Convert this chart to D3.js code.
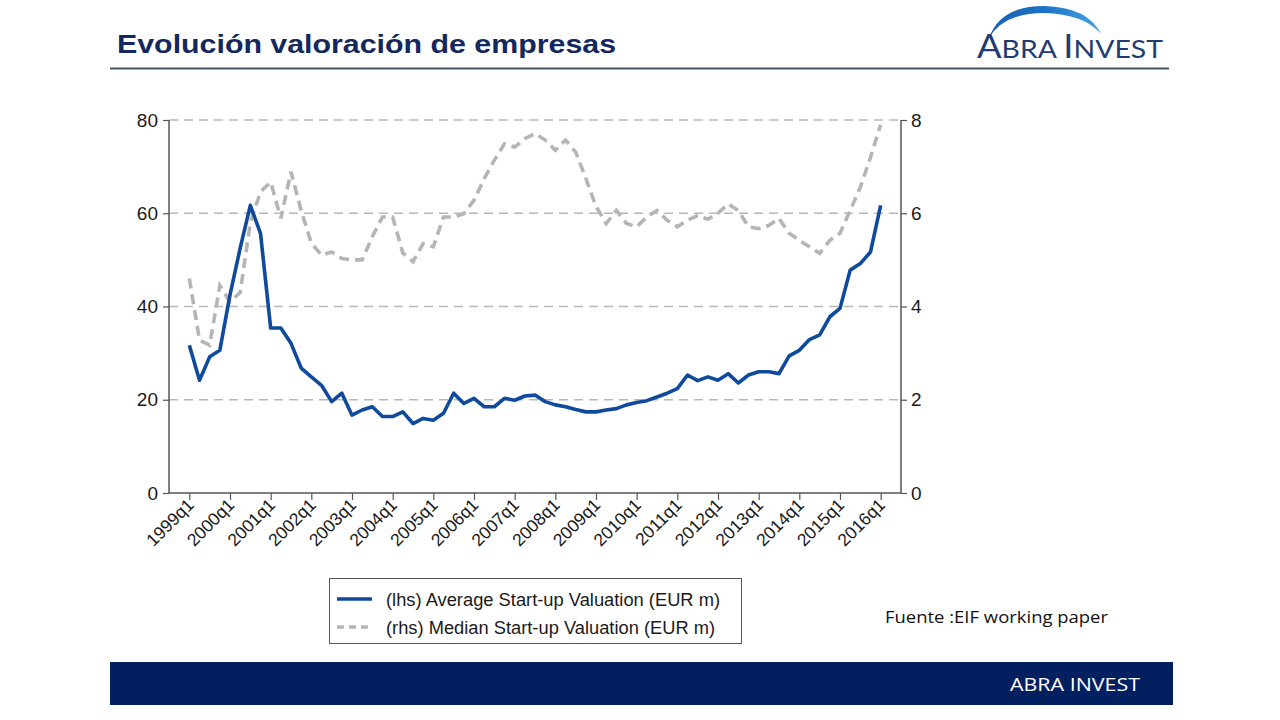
<!DOCTYPE html>
<html><head><meta charset="utf-8">
<script src="https://cdn.jsdelivr.net/npm/d3@7"></script>
<style>
html,body{margin:0;padding:0;background:#fff;}
svg{display:block;}
</style></head>
<body>
<svg id="chart" width="1280" height="720"></svg>
<script>
// ---- Data ----
const years = ["1999","2000","2001","2002","2003","2004","2005","2006","2007","2008","2009","2010","2011","2012","2013","2014","2015","2016"];
const tickLabels = years.map(y => y + "q1");
// Quarterly, 1999q1 .. 2016q1 (69 quarters)
const averageValuation = [
  31.7, 24.2, 29.2, 30.6,
  42.5, 52.5, 61.7, 55.7,
  35.4, 35.4, 32.1, 26.8,
  24.9, 23.1, 19.6, 21.4,
  16.7, 17.8, 18.5, 16.4,
  16.4, 17.4, 14.9, 16.0,
  15.6, 17.1, 21.4, 19.2,
  20.3, 18.5, 18.5, 20.3,
  19.9, 20.8, 21.0, 19.6,
  18.9, 18.5, 17.9, 17.4,
  17.4, 17.8, 18.1, 18.9,
  19.4, 19.8, 20.6, 21.4,
  22.4, 25.3, 24.1, 24.9,
  24.2, 25.6, 23.6, 25.3,
  26.0, 26.0, 25.6, 29.4,
  30.6, 32.9, 33.9, 37.8,
  39.6, 47.8, 49.2, 51.7,
  61.7
];
const medianValuation = [
  4.6, 3.28, 3.17, 4.45,
  4.1, 4.3, 5.8, 6.46,
  6.67, 5.89, 6.89, 6.06,
  5.36, 5.1, 5.17, 5.03,
  5.0, 5.0, 5.5, 5.92,
  5.92, 5.15, 4.96, 5.35,
  5.28, 5.92, 5.92, 5.99,
  6.28, 6.74, 7.14, 7.49,
  7.42, 7.6, 7.71, 7.57,
  7.35, 7.57, 7.31, 6.75,
  6.15, 5.78, 6.06, 5.78,
  5.71, 5.92, 6.06, 5.85,
  5.71, 5.85, 5.95, 5.87,
  6.0, 6.2, 6.06, 5.71,
  5.67, 5.74, 5.89, 5.57,
  5.42, 5.28, 5.14, 5.42,
  5.57, 6.06, 6.56, 7.2,
  7.9
];
const leftTicks = [0, 20, 40, 60, 80];
const rightTicks = [0, 2, 4, 6, 8];
const legendLabels = ["(lhs) Average Start-up Valuation (EUR m)", "(rhs) Median Start-up Valuation (EUR m)"];

// ---- Layout ----
const svg = d3.select("#chart");
const plot = {left: 169, right: 901, top: 120, bottom: 493};
const blue = "#0f4a9c";
const grey = "#b5b5b5";
const axisCol = "#555";
const navy = "#12285e";

const x = d3.scaleLinear().domain([-2, 70]).range([plot.left, plot.right]);
const yL = d3.scaleLinear().domain([0, 80]).range([plot.bottom, plot.top]);
const yR = d3.scaleLinear().domain([0, 8]).range([plot.bottom, plot.top]);

// ---- Header ----
svg.append("text")
  .attr("x", 117).attr("y", 53)
  .attr("font-family", "Liberation Sans, Arial, sans-serif")
  .attr("font-weight", "bold").attr("font-size", 26)
  .attr("fill", navy)
  .attr("textLength", 499).attr("lengthAdjust", "spacingAndGlyphs")
  .text("Evolución valoración de empresas");

svg.append("line")
  .attr("x1", 110).attr("x2", 1169).attr("y1", 68.5).attr("y2", 68.5)
  .attr("stroke", "#45566a").attr("stroke-width", 2);

// Logo
const defs = svg.append("defs");
const grad = defs.append("linearGradient").attr("id", "arcGrad").attr("x1", "0").attr("x2", "1").attr("y1", "0").attr("y2", "0");
grad.append("stop").attr("offset", "0%").attr("stop-color", "#1c5fb0");
grad.append("stop").attr("offset", "50%").attr("stop-color", "#1a73c8");
grad.append("stop").attr("offset", "100%").attr("stop-color", "#4aa3e0");
svg.append("path")
  .attr("d", "M989,38 Q1000,6 1044,6 Q1088,7 1101,34 Q1084,14 1044,13 Q1004,13 989,38 Z")
  .attr("fill", "url(#arcGrad)");
const logo = svg.append("text")
  .attr("x", 977).attr("y", 58)
  .attr("font-family", "Lato, Open Sans, sans-serif")
  .attr("font-weight", 400)
  .attr("fill", "#223b70")
  .attr("textLength", 186).attr("lengthAdjust", "spacingAndGlyphs");
logo.append("tspan").attr("font-size", 32).text("A");
logo.append("tspan").attr("font-size", 25).text("BRA ");
logo.append("tspan").attr("font-size", 32).text("I");
logo.append("tspan").attr("font-size", 25).text("NVEST");

// ---- Gridlines ----
svg.append("g").selectAll("line")
  .data(leftTicks.filter(d => d > 0))
  .join("line")
  .attr("x1", plot.left).attr("x2", plot.right)
  .attr("y1", d => yL(d)).attr("y2", d => yL(d))
  .attr("stroke", "#b8b8b8").attr("stroke-width", 1.4)
  .attr("stroke-dasharray", "9,6");

// ---- Axes ----
const fontAxis = "Liberation Sans, Arial, sans-serif";
const gL = svg.append("g").attr("transform", `translate(${plot.left},0)`)
  .call(d3.axisLeft(yL).tickValues(leftTicks).tickSize(6).tickPadding(5).tickFormat(d3.format("d")));
const gR = svg.append("g").attr("transform", `translate(${plot.right},0)`)
  .call(d3.axisRight(yR).tickValues(rightTicks).tickSize(6).tickPadding(4).tickFormat(d3.format("d")));
const tickIdx = tickLabels.map((_, i) => i * 4);
const gB = svg.append("g").attr("transform", `translate(0,${plot.bottom})`)
  .call(d3.axisBottom(x).tickValues(tickIdx).tickSize(7).tickFormat((d, i) => tickLabels[i]));

[gL, gR, gB].forEach(g => {
  g.select(".domain").attr("stroke", axisCol).attr("stroke-width", 1.5);
  g.selectAll(".tick line").attr("stroke", axisCol).attr("stroke-width", 1.2);
  g.selectAll(".tick text").attr("fill", "#1a1a1a").attr("font-family", fontAxis);
});
gL.select(".domain").attr("d", `M0,${plot.top}V${plot.bottom}`);
gR.select(".domain").attr("d", `M0,${plot.top}V${plot.bottom}`);
gB.select(".domain").attr("d", `M${plot.left},0H${plot.right}`);
gL.selectAll(".tick text").attr("font-size", 19);
gR.selectAll(".tick text").attr("font-size", 19);
gB.selectAll(".tick text")
  .attr("font-size", 17.5)
  .attr("text-anchor", "end")
  .attr("dy", null).attr("y", 0)
  .attr("transform", "translate(5,13) rotate(-45)");

// ---- Lines ----
const lineL = d3.line().x((d, i) => x(i)).y(d => yL(d));
const lineR = d3.line().x((d, i) => x(i)).y(d => yR(d));
svg.append("path").datum(medianValuation)
  .attr("d", lineR).attr("fill", "none")
  .attr("stroke", grey).attr("stroke-width", 3.6)
  .attr("stroke-dasharray", "10,6");
svg.append("path").datum(averageValuation)
  .attr("d", lineL).attr("fill", "none")
  .attr("stroke", blue).attr("stroke-width", 3.6)
  .attr("stroke-linejoin", "round");

// ---- Legend ----
const lg = svg.append("g");
lg.append("rect").attr("x", 329.5).attr("y", 578.5).attr("width", 412).attr("height", 65)
  .attr("fill", "#fff").attr("stroke", "#555").attr("stroke-width", 1);
const legendStyles = [{c: blue, dash: null, w: 334}, {c: grey, dash: "7,5", w: 329}];
legendLabels.forEach((lab, i) => {
  const yy = 599 + i * 28;
  lg.append("line").attr("x1", 337).attr("x2", 372).attr("y1", yy).attr("y2", yy)
    .attr("stroke", legendStyles[i].c).attr("stroke-width", 3.4)
    .attr("stroke-dasharray", legendStyles[i].dash);
  lg.append("text").attr("x", 386).attr("y", yy + 6.5)
    .attr("font-family", fontAxis).attr("font-size", 17.5).attr("fill", "#1a1a1a")
    .attr("textLength", legendStyles[i].w).attr("lengthAdjust", "spacingAndGlyphs")
    .text(lab);
});

// ---- Source ----
svg.append("text").attr("x", 885).attr("y", 623)
  .attr("font-family", "Open Sans, sans-serif").attr("font-size", 16).attr("fill", "#111")
  .attr("textLength", 223).attr("lengthAdjust", "spacingAndGlyphs")
  .text("Fuente :EIF working paper");

// ---- Footer ----
svg.append("rect").attr("x", 110).attr("y", 662).attr("width", 1063).attr("height", 43)
  .attr("fill", "#022060");
svg.append("text").attr("x", 1140).attr("y", 691).attr("text-anchor", "end")
  .attr("font-family", "Open Sans, sans-serif").attr("font-size", 19).attr("fill", "#fff")
  .attr("textLength", 130).attr("lengthAdjust", "spacingAndGlyphs")
  .text("ABRA INVEST");
</script>
</body></html>
